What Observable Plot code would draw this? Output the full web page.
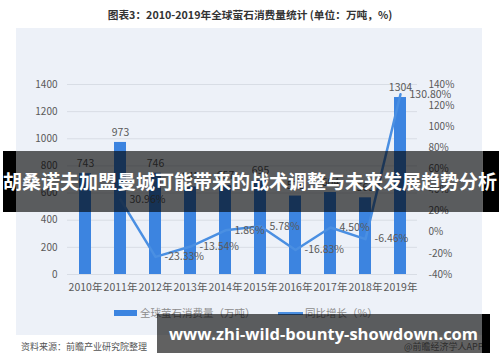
<!DOCTYPE html>
<html>
<head>
<meta charset="utf-8">
<script src="https://cdn.jsdelivr.net/npm/d3@7"></script>
<script src="https://cdn.jsdelivr.net/npm/@observablehq/plot@0.6"></script>
<style>
  html, body { margin: 0; padding: 0; background: #fff; }
  #wrap { position: relative; width: 500px; height: 362px; overflow: hidden; font-family: "Noto Sans CJK SC", "Noto Sans", sans-serif; }
  .abs { position: absolute; }
  #panel { left: 16px; top: 28px; width: 466px; height: 307px; background: #edf1f8; }
  #title { left: 0; top: 7px; width: 500px; text-align: center; font-size: 10.7px; font-weight: bold; color: #333; line-height: 16px; }
  #chart { left: 0; top: 0; }
  .leg { font-size: 10.5px; color: #8c8c8c; line-height: 14px; white-space: nowrap; }
  #src { left: 21px; top: 340px; font-size: 9px; color: #555; line-height: 14px; }
  #app { left: 404px; top: 340px; font-size: 9px; color: #777; line-height: 14px; }
  .ban { position: absolute; }
  .btext { position: absolute; color: #fff; font-weight: bold; white-space: nowrap; text-align: center; }
</style>
</head>
<body>
<div id="wrap">
  <div id="panel" class="abs"></div>
  <div id="title" class="abs">图表3：2010-2019年全球萤石消费量统计 (单位：万吨，%)</div>
  <div id="chart" class="abs"></div>
  <div class="abs" style="left:114px;top:310px;width:23px;height:6px;background:#3c84e0"></div>
  <div class="abs leg" style="left:140px;top:306px">全球萤石消费量（万吨）</div>
  <div class="abs" style="left:278px;top:312px;width:25px;height:2.5px;background:#4a8fe2"></div>
  <div class="abs leg" style="left:305px;top:306px">同比增长（%）</div>
  <div id="src" class="abs">资料来源：前瞻产业研究院整理</div>
  <div id="app" class="abs">@前瞻经济学人APP</div>

  <div class="ban" style="left:3px;top:151px;width:13px;height:61px;background:#000"></div>
  <div class="ban" style="left:16px;top:151px;width:467px;height:61px;background:rgba(0,0,0,0.62)"></div>
  <div class="ban" style="left:483px;top:151px;width:16px;height:61px;background:#000"></div>
  <div class="btext" style="left:0;top:166px;width:500px;font-size:19px;line-height:30px">胡桑诺夫加盟曼城可能带来的战术调整与未来发展趋势分析</div>

  <div class="ban" style="left:157px;top:314px;width:325px;height:39px;background:rgba(0,0,0,0.62)"></div>
  <div class="ban" style="left:482px;top:314px;width:8px;height:39px;background:#000"></div>
  <div class="btext" style="left:157px;top:320px;width:333px;font-size:16.5px;line-height:28px;font-family:'Open Sans','Noto Sans',sans-serif">www.zhi-wild-bounty-showdown.com</div>
</div>
<script>
const years = ["2010年","2011年","2012年","2013年","2014年","2015年","2016年","2017年","2018年","2019年"];
const consumption = [743, 973, 746, 645, 657, 695, 578, 604, 565, 1304];
const growthYears = ["2011年","2012年","2013年","2014年","2015年","2016年","2017年","2018年","2019年"];
const growth = [30.96, -23.33, -13.54, 1.86, 5.78, -16.83, 4.50, -6.46, 130.80];
const leftTicks = [0, 200, 400, 600, 800, 1000, 1200, 1400];
const rightTicks = [-40, -20, 0, 20, 40, 60, 80, 100, 120, 140];

// map percent axis (-40..140) onto the left axis units (0..1400)
const pctToY = d3.scaleLinear().domain([-40, 140]).range([0, 1400]);
const yToPct = pctToY.invert;

const font = "'Noto Sans CJK SC','Noto Sans',sans-serif";
const txt = "#595959";

const chart = Plot.plot({
  width: 500,
  height: 362,
  marginLeft: 67,
  marginRight: 83,
  marginTop: 84,
  marginBottom: 88,
  style: { background: "transparent", fontFamily: font, fontSize: "10px", color: txt, overflow: "visible" },
  x: { type: "band", domain: years, paddingInner: 0.66, paddingOuter: 0.33, label: null },
  y: { domain: [0, 1400], label: null },
  marks: [
    Plot.gridY(leftTicks, { stroke: "#d8dde5", strokeOpacity: 1 }),
    Plot.axisY({ ticks: leftTicks, tickSize: 0, tickPadding: 10, label: null, tickFormat: d => String(d), fill: txt, fontSize: 10 }),
    Plot.axisY({ anchor: "right", ticks: rightTicks.map(pctToY), tickSize: 0, tickPadding: 11, label: null,
      tickFormat: v => Math.round(yToPct(v)) + "%", fill: txt, fontSize: 10 }),
    Plot.axisX({ tickSize: 0, tickPadding: 9, label: null, fill: txt, fontSize: 10.5 }),
    Plot.barY(consumption, { x: years, y: consumption, fill: "#3c84e0" }),
    Plot.line(growth, { x: growthYears, y: growth.map(pctToY), stroke: "#4a8fe2", strokeWidth: 2.5 }),
    Plot.text(consumption, { x: years, y: consumption, text: d => String(d), dy: -10, fill: txt, fontSize: 10.5 }),
    Plot.text(growth, { x: growthYears, y: growth.map(pctToY), text: d => d.toFixed(2) + "%", textAnchor: "start", dx: 9, fill: txt, fontSize: 10.5 })
  ]
});
document.getElementById("chart").appendChild(chart);
</script>
</body>
</html>
